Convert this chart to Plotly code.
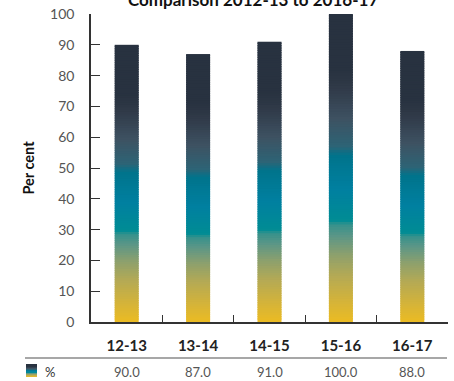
import plotly.graph_objects as go

# Data
categories = ["12-13", "13-14", "14-15", "15-16", "16-17"]
percent = [90.0, 87.0, 91.0, 100.0, 88.0]
y_ticks = [0, 10, 20, 30, 40, 50, 60, 70, 80, 90, 100]
series_name = "%"
title_text = "Comparison 2012-13 to 2016-17"

# Vertical gradient (fraction of bar height from the bottom -> RGB)
stops = [
    (0.00, (235, 187, 35)),
    (0.06, (215, 180, 55)),
    (0.15, (180, 170, 85)),
    (0.22, (140, 160, 110)),
    (0.28, (90, 150, 135)),
    (0.315, (55, 146, 140)),
    (0.33, (0, 140, 148)),
    (0.43, (0, 128, 160)),
    (0.54, (0, 116, 140)),
    (0.57, (45, 100, 118)),
    (0.66, (62, 82, 98)),
    (0.76, (48, 58, 72)),
    (0.82, (40, 50, 64)),
    (1.00, (40, 50, 64)),
]


def grad(t):
    for (t0, c0), (t1, c1) in zip(stops[:-1], stops[1:]):
        if t <= t1:
            f = 0 if t1 == t0 else (t - t0) / (t1 - t0)
            r, g, b = (round(a + (bb - a) * f) for a, bb in zip(c0, c1))
            return f"rgb({r},{g},{b})"
    r, g, b = stops[-1][1]
    return f"rgb({r},{g},{b})"


FONT = "Lato"
W, H = 454, 381
ML, MR, MT, MB = 91, 6, 14, 59

fig = go.Figure()

# Gradient bars: each bar is cut into N horizontal slices painted bottom-up.
# Every slice but the last reaches a little into the next one, which is drawn
# on top of it, so no seams show between slices.
N = 120
for i in range(N):
    lo = i / N
    hi = 1.0 if i == N - 1 else min(1.0, (i + 1.6) / N)
    col = grad((i + 0.5) / N)
    fig.add_trace(go.Bar(
        x=categories,
        base=[v * lo for v in percent],
        y=[v * (hi - lo) for v in percent],
        marker=dict(color=col, line=dict(width=0)),
        width=0.336,
        showlegend=False,
        hoverinfo="skip",
    ))

fig.update_layout(
    width=W, height=H,
    margin=dict(l=ML, r=MR, t=MT, b=MB),
    barmode="overlay",
    plot_bgcolor="white",
    paper_bgcolor="white",
    font=dict(family=FONT, color="#555555"),
    showlegend=False,
)

fig.update_yaxes(
    range=[0, 100],
    tickvals=y_ticks,
    ticks="inside",
    ticklen=9,
    tickwidth=1.3,
    tickcolor="#333333",
    showline=True,
    linecolor="#333333",
    linewidth=1.5,
    showgrid=False,
    zeroline=False,
    tickfont=dict(family=FONT, size=14, color="#555555"),
    ticklabelstandoff=12,
    title=dict(text="<b>Per cent</b>", font=dict(family=FONT, size=14.5, color="#111111"),
               standoff=12),
)

fig.update_xaxes(
    range=[-0.5, len(categories) - 0.5],
    tickson="boundaries",
    ticks="inside",
    ticklen=7,
    tickwidth=1.3,
    tickcolor="#333333",
    showline=True,
    linecolor="#333333",
    linewidth=1.5,
    showgrid=False,
    tickfont=dict(family=FONT, size=15, color="#222222"),
    ticklabelstandoff=9,
)
fig.update_xaxes(ticktext=[f"<b>{c}</b>" for c in categories], tickvals=categories)

plot_h = H - MT - MB


def py(pix):
    """Pixel row (from top of page) -> paper y."""
    return (H - MB - pix) / plot_h


def px(pix):
    """Pixel column -> paper x."""
    return (pix - ML) / (W - ML - MR)


# Title (sits partly above the page edge)
fig.add_annotation(
    text=f"<b>{title_text}</b>", xref="paper", yref="paper",
    x=px(253), y=py(12), xanchor="center", yanchor="bottom",
    showarrow=False, font=dict(family=FONT, size=17, color="#111111"),
)

# Data table below the axis
fig.add_shape(type="line", xref="paper", yref="paper",
              x0=px(25), x1=px(447), y0=py(358), y1=py(358),
              line=dict(color="#8a8a8a", width=1.5))

for c, v in zip(categories, percent):
    fig.add_annotation(
        text=f"{v:.1f}", xref="x", yref="paper", x=c, y=py(372),
        xanchor="center", yanchor="middle", showarrow=False,
        font=dict(family=FONT, size=13, color="#555555"),
    )

# Legend key: small gradient swatch + series name
key_top, key_bot = 364, 377
steps = 13
for k in range(steps):
    y_top = key_top + (key_bot - key_top) * k / steps
    y_bot = key_top + (key_bot - key_top) * (k + 1) / steps
    fig.add_shape(type="rect", xref="paper", yref="paper",
                  x0=px(26), x1=px(37), y0=py(y_bot), y1=py(y_top),
                  line=dict(width=0),
                  fillcolor=grad(1 - (k + 0.5) / steps))
fig.add_annotation(
    text=series_name, xref="paper", yref="paper", x=px(43), y=py(372),
    xanchor="left", yanchor="middle", showarrow=False,
    font=dict(family=FONT, size=13, color="#333333"),
)

fig.write_html("out.html")
